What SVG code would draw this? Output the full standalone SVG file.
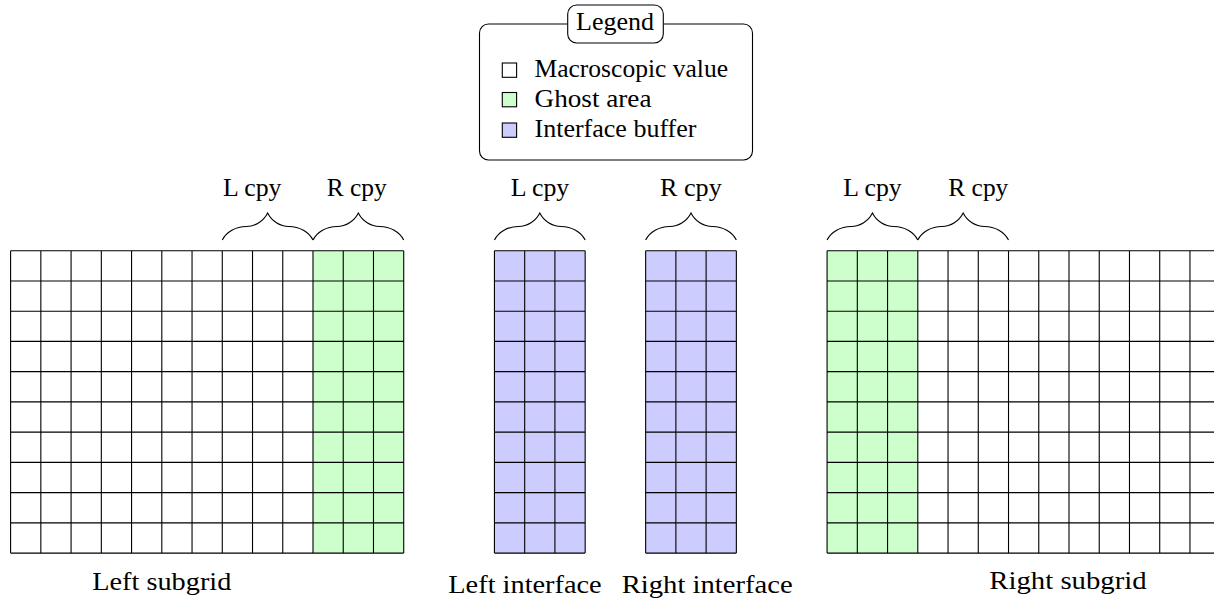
<svg xmlns="http://www.w3.org/2000/svg" xmlns:xlink="http://www.w3.org/1999/xlink" width="1214" height="599" viewBox="0 0 1214 599">
<style>
  text { font-family: "Liberation Serif", "Times New Roman", serif; font-size: 24.5px; fill: #000; }
  .grid { fill: none; stroke: #000; stroke-width: 1.1; }
  .white { fill: #ffffff; }
  .ghost { fill: #ccffcc; }
  .iface { fill: #ccccff; }
  .brace { fill: none; stroke: #000; stroke-width: 1.1; }
  .box { stroke: #000; stroke-width: 1.1; }
</style>
<defs>
  <path id="brace" class="brace" d="M0,0 C4,-8.1 13.5,-13.5 24,-13.5 C33,-13.5 41.3,-18.9 45.36,-27 C49.4,-18.9 57.7,-13.5 66.72,-13.5 C77.2,-13.5 86.7,-8.1 90.72,0"/>
</defs>
<rect width="1214" height="599" fill="#ffffff"/>

<g id="legend">
  <rect x="479.5" y="24" width="273" height="136" rx="9" ry="9" fill="#ffffff" class="box"/>
  <rect x="567.7" y="5" width="95.6" height="38" rx="9" ry="9" fill="#ffffff" class="box"/>
  <text x="576" y="30" textLength="78" lengthAdjust="spacingAndGlyphs">Legend</text>
  <rect x="502.3" y="63" width="14.3" height="14.3" class="box white"/>
  <rect x="502.3" y="92.5" width="14.3" height="14.3" class="box ghost"/>
  <rect x="502.3" y="123" width="14.3" height="14.3" class="box iface"/>
  <text x="534.5" y="76.5" textLength="193.5" lengthAdjust="spacingAndGlyphs">Macroscopic value</text>
  <text x="534.5" y="106.8" textLength="117" lengthAdjust="spacingAndGlyphs">Ghost area</text>
  <text x="534.5" y="137" textLength="162" lengthAdjust="spacingAndGlyphs">Interface buffer</text>
</g>

<g id="left-subgrid">
  <rect x="10.6" y="250.7" width="302.4" height="302.4" class="white"/>
  <rect x="313" y="250.7" width="90.72" height="302.4" class="ghost"/>
  <path class="grid" d="M10.6,250.7H403.72M10.6,280.94H403.72M10.6,311.18H403.72M10.6,341.42H403.72M10.6,371.66H403.72M10.6,401.9H403.72M10.6,432.14H403.72M10.6,462.38H403.72M10.6,492.62H403.72M10.6,522.86H403.72M10.6,553.1H403.72
  M10.6,250.7V553.1M40.84,250.7V553.1M71.08,250.7V553.1M101.32,250.7V553.1M131.56,250.7V553.1M161.8,250.7V553.1M192.04,250.7V553.1M222.28,250.7V553.1M252.52,250.7V553.1M282.76,250.7V553.1M313,250.7V553.1M343.24,250.7V553.1M373.48,250.7V553.1M403.72,250.7V553.1"/>
  <text x="92.3" y="589.5" textLength="139" lengthAdjust="spacingAndGlyphs">Left subgrid</text>
</g>

<g id="left-interface">
  <rect x="494.44" y="250.7" width="90.72" height="302.4" class="iface"/>
  <path class="grid" d="M494.44,250.7H585.16M494.44,280.94H585.16M494.44,311.18H585.16M494.44,341.42H585.16M494.44,371.66H585.16M494.44,401.9H585.16M494.44,432.14H585.16M494.44,462.38H585.16M494.44,492.62H585.16M494.44,522.86H585.16M494.44,553.1H585.16
  M494.44,250.7V553.1M524.68,250.7V553.1M554.92,250.7V553.1M585.16,250.7V553.1"/>
  <text x="448.3" y="592.5" textLength="153.4" lengthAdjust="spacingAndGlyphs">Left interface</text>
</g>

<g id="right-interface">
  <rect x="645.64" y="250.7" width="90.72" height="302.4" class="iface"/>
  <path class="grid" d="M645.64,250.7H736.36M645.64,280.94H736.36M645.64,311.18H736.36M645.64,341.42H736.36M645.64,371.66H736.36M645.64,401.9H736.36M645.64,432.14H736.36M645.64,462.38H736.36M645.64,492.62H736.36M645.64,522.86H736.36M645.64,553.1H736.36
  M645.64,250.7V553.1M675.88,250.7V553.1M706.12,250.7V553.1M736.36,250.7V553.1"/>
  <text x="621.7" y="592.5" textLength="171" lengthAdjust="spacingAndGlyphs">Right interface</text>
</g>

<g id="right-subgrid">
  <rect x="827.08" y="250.7" width="90.72" height="302.4" class="ghost"/>
  <rect x="917.8" y="250.7" width="302.4" height="302.4" class="white"/>
  <path class="grid" d="M827.08,250.7H1220.2M827.08,280.94H1220.2M827.08,311.18H1220.2M827.08,341.42H1220.2M827.08,371.66H1220.2M827.08,401.9H1220.2M827.08,432.14H1220.2M827.08,462.38H1220.2M827.08,492.62H1220.2M827.08,522.86H1220.2M827.08,553.1H1220.2
  M827.08,250.7V553.1M857.32,250.7V553.1M887.56,250.7V553.1M917.8,250.7V553.1M948.04,250.7V553.1M978.28,250.7V553.1M1008.52,250.7V553.1M1038.76,250.7V553.1M1069,250.7V553.1M1099.24,250.7V553.1M1129.48,250.7V553.1M1159.72,250.7V553.1M1189.96,250.7V553.1M1220.2,250.7V553.1"/>
  <text x="989.3" y="589" textLength="157.4" lengthAdjust="spacingAndGlyphs">Right subgrid</text>
</g>

<g id="braces">
  <use xlink:href="#brace" href="#brace" transform="translate(222.28,240)"/>
  <use xlink:href="#brace" href="#brace" transform="translate(313,240)"/>
  <use xlink:href="#brace" href="#brace" transform="translate(494.44,240)"/>
  <use xlink:href="#brace" href="#brace" transform="translate(645.64,240)"/>
  <use xlink:href="#brace" href="#brace" transform="translate(827.08,240)"/>
  <use xlink:href="#brace" href="#brace" transform="translate(917.8,240)"/>
  <text x="223" y="196" textLength="58.5" lengthAdjust="spacingAndGlyphs">L cpy</text>
  <text x="326.7" y="196" textLength="60" lengthAdjust="spacingAndGlyphs">R cpy</text>
  <text x="510.7" y="196" textLength="58.6" lengthAdjust="spacingAndGlyphs">L cpy</text>
  <text x="660" y="196" textLength="61.7" lengthAdjust="spacingAndGlyphs">R cpy</text>
  <text x="843.3" y="196" textLength="58.4" lengthAdjust="spacingAndGlyphs">L cpy</text>
  <text x="948.3" y="196" textLength="60" lengthAdjust="spacingAndGlyphs">R cpy</text>
</g>
</svg>
